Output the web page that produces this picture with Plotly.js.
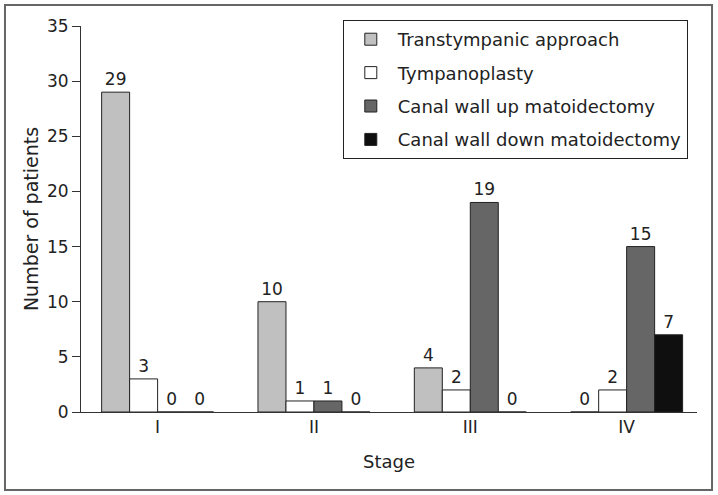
<!DOCTYPE html>
<html><head><meta charset="utf-8">
<script src="https://cdn.plot.ly/plotly-3.0.1.min.js"></script>
<style>html,body{margin:0;padding:0;background:#fff}#c{width:718px;height:495px}</style>
</head><body><div id="c"></div>
<script>
const stages = ["I", "II", "III", "IV"];
const seriesNames = ["Transtympanic approach", "Tympanoplasty", "Canal wall up matoidectomy", "Canal wall down matoidectomy"];
const transtympanic = [29, 10, 4, 0];
const tympanoplasty = [3, 1, 2, 2];
const canalWallUp = [0, 1, 19, 15];
const canalWallDown = [0, 0, 0, 7];
const yTicks = [0, 5, 10, 15, 20, 25, 30, 35];

const values = [transtympanic, tympanoplasty, canalWallUp, canalWallDown];
const colors = ["#c0c0c0", "#ffffff", "#666666", "#0f0f0f"];
const FONT = "'DejaVu Sans', sans-serif";

const traces = values.map((v, i) => ({
  type: "bar",
  name: seriesNames[i],
  x: stages,
  y: v,
  text: v.map(String),
  textposition: "outside",
  cliponaxis: false,
  textfont: {family: FONT, size: 17, color: "#222"},
  marker: {color: colors[i], line: {color: "#222", width: 1}},
  legendgroup: "g" + i,
  hoverinfo: "none"
}));

const layout = {
  width: 718, height: 495,
  margin: {l: 81, r: 21, t: 26, b: 83},
  paper_bgcolor: "#fff", plot_bgcolor: "#fff",
  font: {family: FONT, size: 17, color: "#222"},
  barmode: "group",
  bargap: 0.284, bargroupgap: 0,
  showlegend: true,
  legend: {
    x: 0.425, y: 1.0155, xanchor: "left", yanchor: "top",
    bordercolor: "#222", borderwidth: 1, bgcolor: "#fff",
    font: {family: FONT, size: 18, color: "#222"},
    traceorder: "grouped", tracegroupgap: 7, itemwidth: 44
  },
  xaxis: {
    type: "category",
    range: [-0.49, 3.45],
    showline: true, linecolor: "#333", linewidth: 1,
    ticks: "", showgrid: false, zeroline: false,
    tickfont: {family: FONT, size: 17, color: "#222"},
    title: {text: "Stage", font: {family: FONT, size: 18, color: "#222"}, standoff: 18}
  },
  yaxis: {
    range: [0, 35],
    tickvals: yTicks,
    showline: true, linecolor: "#333", linewidth: 1,
    ticks: "outside", ticklen: 8, tickcolor: "#333",
    showgrid: false, zeroline: false,
    tickfont: {family: FONT, size: 17, color: "#222"},
    title: {text: "Number of patients", font: {family: FONT, size: 19, color: "#222"}, standoff: 3}
  },
  shapes: [{
    type: "rect", xref: "paper", yref: "paper",
    x0: -0.1234, x1: 1.0244, y0: -0.2021, y1: 1.0544,
    line: {color: "#666", width: 2}, fillcolor: "rgba(0,0,0,0)"
  }]
};

Plotly.newPlot("c", traces, layout, {displayModeBar: false, staticPlot: true});
</script>
</body></html>
